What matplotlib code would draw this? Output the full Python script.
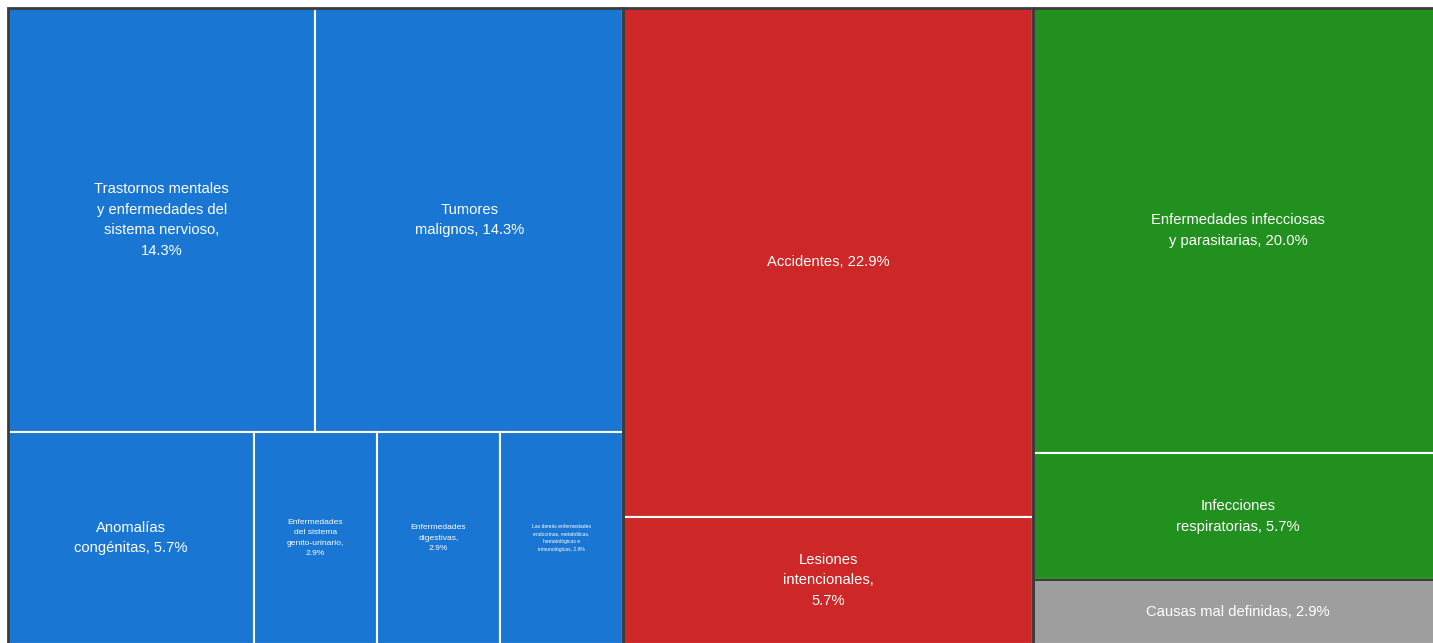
import matplotlib.pyplot as plt
from matplotlib.patches import Rectangle

plt.rcParams["font.family"] = ["Liberation Sans", "DejaVu Sans"]

# deaths per cause (shares shown as % of total)
group_colors = {"blue": "#1976d2", "red": "#cd2727", "green": "#22901e"}
GRAY = "#9e9e9e"

blue_top = ["Trastornos mentales\ny enfermedades del\nsistema nervioso,\n14.3%",
            "Tumores\nmalignos, 14.3%"]
blue_top_counts = [5, 5]
blue_bottom = ["Anomalías\ncongénitas, 5.7%",
               "Enfermedades\ndel sistema\ngenito-urinario,\n2.9%",
               "Enfermedades\ndigestivas,\n2.9%",
               "Las demás enfermedades\nendocrinas, metabólicas,\nhematológicas e\ninmunológicas, 2.9%"]
blue_bottom_counts = [2, 1, 1, 1]
red_labels = ["Accidentes, 22.9%", "Lesiones\nintencionales,\n5.7%"]
red_counts = [8, 2]
green_labels = ["Enfermedades infecciosas\ny parasitarias, 20.0%",
                "Infecciones\nrespiratorias, 5.7%",
                "Causas mal definidas, 2.9%"]
green_counts = [7, 2, 1]

font_sizes = {"Enfermedades\ndel sistema\ngenito-urinario,\n2.9%": 6.1,
              "Enfermedades\ndigestivas,\n2.9%": 6.1,
              "Las demás enfermedades\nendocrinas, metabólicas,\nhematológicas e\ninmunológicas, 2.9%": 3.6}

W, H = 1433, 643
fig = plt.figure(figsize=(W / 100, H / 100), dpi=100)
fig.patch.set_facecolor("white")
# the treemap runs slightly past the right and bottom edges of the picture
ax = fig.add_axes([8 / W, -1 / H, 1435 / W, 636 / H])
ax.set_xlim(0, 1)
ax.set_ylim(1, 0)
ax.axis("off")

total = sum(blue_top_counts) + sum(blue_bottom_counts) + sum(red_counts) + sum(green_counts)


def cell(x, y, w, h, color, label):
    ax.add_patch(Rectangle((x, y), w, h, facecolor=color, edgecolor="white",
                           linewidth=1.5, zorder=1, clip_on=False))
    ax.text(x + w / 2, y + h / 2, label, ha="center", va="center", color="white",
            fontsize=font_sizes.get(label, 10.6), linespacing=1.62, zorder=3)


def group_frame(x, w):
    ax.add_patch(Rectangle((x, 0), w, 1, facecolor="none", edgecolor="#3c3c3c",
                           linewidth=2.0, zorder=2, clip_on=False))


# blue group: two rows
x0 = 0
bsum = sum(blue_top_counts) + sum(blue_bottom_counts)
bw = bsum / total
top_h = sum(blue_top_counts) / bsum
cx = x0
for lab, c in zip(blue_top, blue_top_counts):
    w = bw * c / sum(blue_top_counts)
    cell(cx, 0, w, top_h, group_colors["blue"], lab)
    cx += w
cx = x0
for lab, c in zip(blue_bottom, blue_bottom_counts):
    w = bw * c / sum(blue_bottom_counts)
    cell(cx, top_h, w, 1 - top_h, group_colors["blue"], lab)
    cx += w
group_frame(x0, bw)

# red group: stacked
x0 += bw
rw = sum(red_counts) / total
cy = 0
for lab, c in zip(red_labels, red_counts):
    h = c / sum(red_counts)
    cell(x0, cy, rw, h, group_colors["red"], lab)
    cy += h
group_frame(x0, rw)

# green group: stacked, last cell gray
x0 += rw
gw = sum(green_counts) / total
cy = 0
for i, (lab, c) in enumerate(zip(green_labels, green_counts)):
    h = c / sum(green_counts)
    color = GRAY if i == len(green_labels) - 1 else group_colors["green"]
    cell(x0, cy, gw, h, color, lab)
    cy += h
group_frame(x0, gw)
# dark separator above the gray cell
ax.plot([x0, x0 + gw], [1 - green_counts[-1] / sum(green_counts)] * 2,
        color="#3c3c3c", linewidth=1.5, zorder=2)

fig.savefig("out.png", dpi=100, facecolor="white")
